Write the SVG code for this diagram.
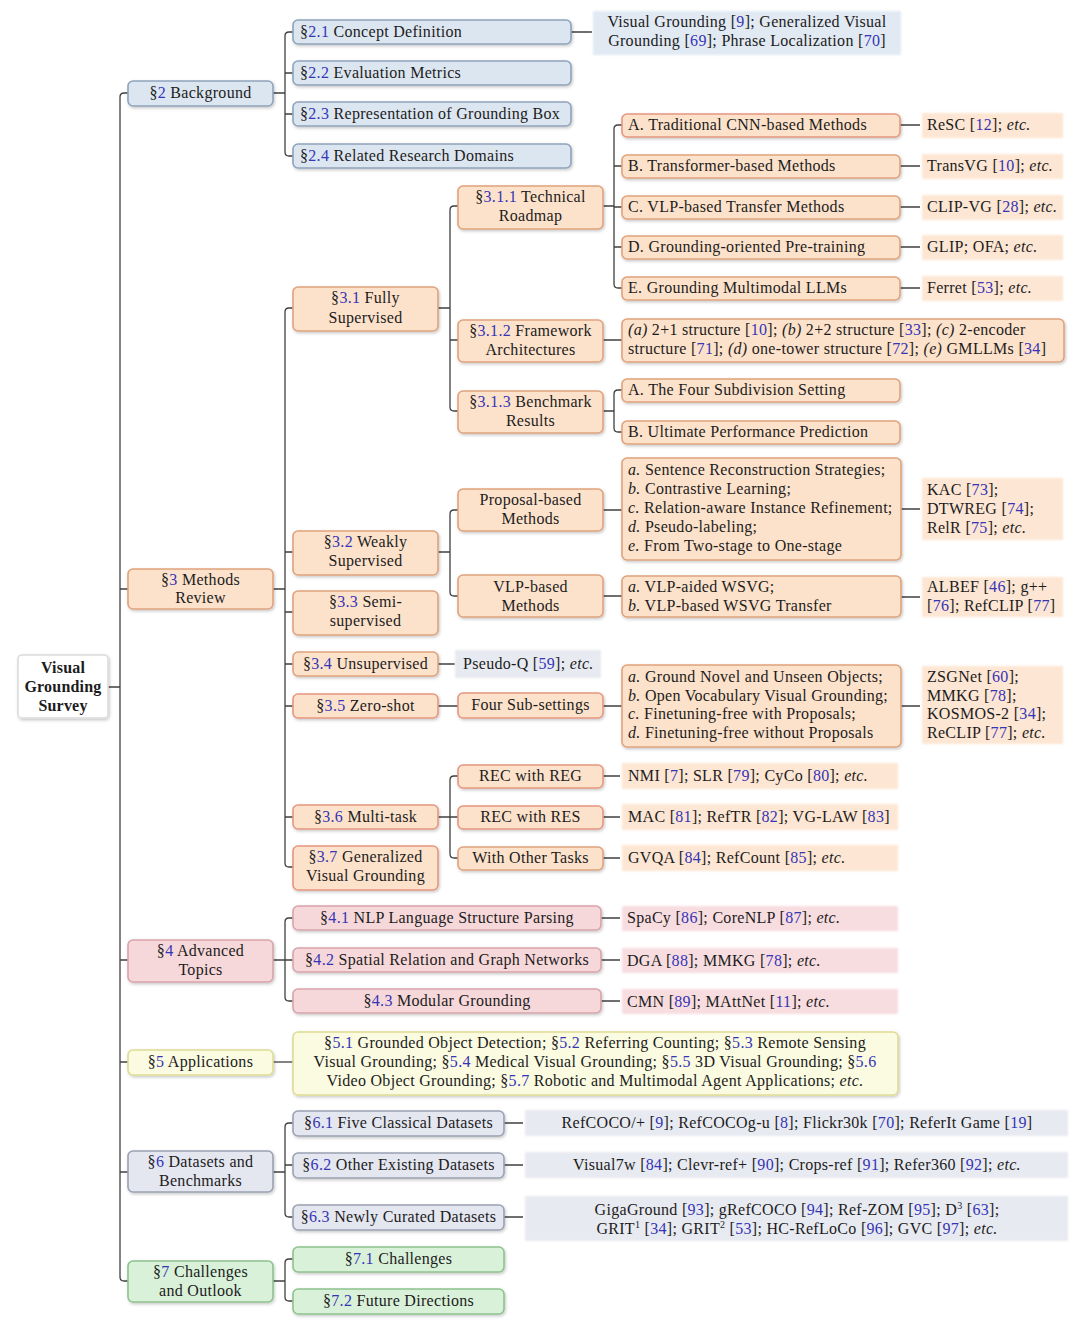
<svg xmlns="http://www.w3.org/2000/svg" width="1080" height="1328" viewBox="0 0 1080 1328">
<defs>
<filter id="sh" x="-10%" y="-30%" width="120%" height="160%">
<feDropShadow dx="1" dy="1.5" stdDeviation="1.4" flood-color="#000" flood-opacity="0.22"/>
</filter>
<filter id="soft" x="-5%" y="-20%" width="110%" height="140%">
<feGaussianBlur stdDeviation="1.2"/>
</filter>
</defs>
<style>
text{font-family:"Liberation Serif","Times New Roman",serif;font-size:16px;letter-spacing:0.3px;fill:#1c1c1c}
.c{text-anchor:middle}
.n{fill:#3535b5}
.i{font-style:italic}
.bold{font-weight:bold;letter-spacing:0.2px}
rect.box{stroke-width:1.6;filter:url(#sh)}
.b0{fill:#ffffff;stroke:#dcdcdc}
.b2{fill:#dce6f1;stroke:#8fa3bb}
.b3{fill:#fce2cb;stroke:#dfa27c}
.b3r{fill:#fce2cb;stroke:#e6977f}
.b4{fill:#f6d7da;stroke:#d7a4aa}
.b5{fill:#fbfbe2;stroke:#dedd92}
.b6{fill:#e4e6f0;stroke:#9ba1b3}
.b7{fill:#d9f1d9;stroke:#8dc28d}
rect.leaf{filter:url(#soft)}
.l2{fill:#e1e9f3}
.l3{fill:#fde6d3}
.l4{fill:#f8dde0}
.l6{fill:#e8eaf1}
#connectors path{fill:none;stroke:#404040;stroke-width:1.3}
</style>
<rect width="1080" height="1328" fill="#ffffff"/>

<g id="connectors">
<path d="M108,687 H120 M128,93 H124 Q120,93 120,97 V1277 Q120,1281 124,1281 H128 M120,589 H128 M120,960 H128 M120,1062 H128 M120,1172 H128"/>
<path d="M273,93 H285 M293,32 H289 Q285,32 285,36 V152 Q285,156 289,156 H293 M285,73 H293 M285,114 H293 M571,32 H592"/>
<path d="M273,589 H285 M293,308 H289 Q285,308 285,312 V863 Q285,867 289,867 H293 M285,552 H293 M285,612 H293 M285,664 H293 M285,706 H293 M285,817 H293"/>
<path d="M438,664 H455 M438,706 H458 M603,706 H622 M900,706 H920"/>
<path d="M438,308 H450 M458,206 H454 Q450,206 450,210 V407 Q450,411 454,411 H458 M450,340 H458"/>
<path d="M603,206 H614 M622,125 H618 Q614,125 614,129 V284 Q614,288 618,288 H622 M614,166 H622 M614,207 H622 M614,247 H622"/>
<path d="M900,125 H920 M900,166 H920 M900,207 H920 M900,247 H920 M900,288 H920"/>
<path d="M603,340 H622 M603,411 H614 M622,390 H618 Q614,390 614,394 V428 Q614,432 618,432 H622"/>
<path d="M438,552 H450 M458,510 H454 Q450,510 450,514 V592 Q450,596 454,596 H458 M603,510 H622 M603,596 H622 M900,509 H920 M900,597 H920"/>
<path d="M438,817 H450 M458,776 H454 Q450,776 450,780 V854 Q450,858 454,858 H458 M450,817 H458 M603,776 H620 M603,817 H620 M603,858 H620"/>
<path d="M273,960 H285 M293,918 H289 Q285,918 285,922 V997 Q285,1001 289,1001 H293 M285,960 H293 M601,918 H620 M601,960 H620 M601,1001 H620"/>
<path d="M273,1062 H293"/>
<path d="M273,1172 H285 M293,1123 H289 Q285,1123 285,1127 V1213 Q285,1217 289,1217 H293 M285,1165 H293 M504,1123 H523 M504,1165 H523 M504,1217 H523"/>
<path d="M273,1281 H285 M293,1259 H289 Q285,1259 285,1263 V1297 Q285,1301 289,1301 H293"/>
</g>

<g id="root"><rect class="box b0" x="18" y="655" width="90" height="63" rx="4"/>
<text class="c bold" x="63" y="673">Visual</text><text class="c bold" x="63" y="692">Grounding</text><text class="c bold" x="63" y="711">Survey</text></g>

<!-- §2 -->
<g id="s2"><rect class="box b2" x="128" y="81" width="145" height="25" rx="5"/><text class="c" x="200.5" y="98">§<tspan class="n">2</tspan> Background</text></g>
<g id="s2_1"><rect class="box b2" x="293" y="20" width="278" height="24" rx="5"/><text x="300" y="37">§<tspan class="n">2.1</tspan> Concept Definition</text></g>
<g id="s2_2"><rect class="box b2" x="293" y="61" width="278" height="24" rx="5"/><text x="300" y="78">§<tspan class="n">2.2</tspan> Evaluation Metrics</text></g>
<g id="s2_3"><rect class="box b2" x="293" y="102" width="278" height="24" rx="5"/><text x="300" y="119">§<tspan class="n">2.3</tspan> Representation of Grounding Box</text></g>
<g id="s2_4"><rect class="box b2" x="293" y="144" width="278" height="24" rx="5"/><text x="300" y="161">§<tspan class="n">2.4</tspan> Related Research Domains</text></g>
<g id="s2_1_leaf"><rect class="leaf l2" x="593" y="11" width="308" height="44"/>
<text class="c" x="747" y="27">Visual Grounding [<tspan class="n">9</tspan>]; Generalized Visual</text>
<text class="c" x="747" y="46">Grounding [<tspan class="n">69</tspan>]; Phrase Localization [<tspan class="n">70</tspan>]</text></g>

<!-- §3 -->
<g id="s3"><rect class="box b3" x="128" y="569" width="145" height="40" rx="5"/><text class="c" x="200.5" y="585">§<tspan class="n">3</tspan> Methods</text><text class="c" x="200.5" y="603">Review</text></g>
<g id="s3_1"><rect class="box b3" x="293" y="287" width="145" height="44" rx="5"/><text class="c" x="365.5" y="303">§<tspan class="n">3.1</tspan> Fully</text><text class="c" x="365.5" y="323">Supervised</text></g>
<g id="s3_2"><rect class="box b3" x="293" y="531" width="145" height="44" rx="5"/><text class="c" x="365.5" y="547">§<tspan class="n">3.2</tspan> Weakly</text><text class="c" x="365.5" y="566">Supervised</text></g>
<g id="s3_3"><rect class="box b3" x="293" y="591" width="145" height="44" rx="5"/><text class="c" x="365.5" y="607">§<tspan class="n">3.3</tspan> Semi-</text><text class="c" x="365.5" y="626">supervised</text></g>
<g id="s3_4"><rect class="box b3" x="293" y="652" width="145" height="24" rx="5"/><text class="c" x="365.5" y="669">§<tspan class="n">3.4</tspan> Unsupervised</text></g>
<g id="s3_5"><rect class="box b3r" x="293" y="694" width="145" height="24" rx="5"/><text class="c" x="365.5" y="711">§<tspan class="n">3.5</tspan> Zero-shot</text></g>
<g id="s3_6"><rect class="box b3r" x="293" y="805" width="145" height="24" rx="5"/><text class="c" x="365.5" y="822">§<tspan class="n">3.6</tspan> Multi-task</text></g>
<g id="s3_7"><rect class="box b3r" x="293" y="846" width="145" height="44" rx="5"/><text class="c" x="365.5" y="862">§<tspan class="n">3.7</tspan> Generalized</text><text class="c" x="365.5" y="881">Visual Grounding</text></g>

<g id="s3_1_1"><rect class="box b3" x="458" y="186" width="145" height="43" rx="5"/><text class="c" x="530.5" y="202">§<tspan class="n">3.1.1</tspan> Technical</text><text class="c" x="530.5" y="221">Roadmap</text></g>
<g id="s3_1_2"><rect class="box b3" x="458" y="320" width="145" height="42" rx="5"/><text class="c" x="530.5" y="336">§<tspan class="n">3.1.2</tspan> Framework</text><text class="c" x="530.5" y="355">Architectures</text></g>
<g id="s3_1_3"><rect class="box b3" x="458" y="391" width="145" height="42" rx="5"/><text class="c" x="530.5" y="407">§<tspan class="n">3.1.3</tspan> Benchmark</text><text class="c" x="530.5" y="426">Results</text></g>

<g id="m_a"><rect class="box b3r" x="622" y="114" width="278" height="23" rx="5"/><text x="628" y="130">A. Traditional CNN-based Methods</text></g>
<g id="m_b"><rect class="box b3" x="622" y="155" width="278" height="23" rx="5"/><text x="628" y="171">B. Transformer-based Methods</text></g>
<g id="m_c"><rect class="box b3" x="622" y="196" width="278" height="23" rx="5"/><text x="628" y="212">C. VLP-based Transfer Methods</text></g>
<g id="m_d"><rect class="box b3" x="622" y="236" width="278" height="23" rx="5"/><text x="628" y="252">D. Grounding-oriented Pre-training</text></g>
<g id="m_e"><rect class="box b3" x="622" y="277" width="278" height="23" rx="5"/><text x="628" y="293">E. Grounding Multimodal LLMs</text></g>
<g id="m_a_leaf"><rect class="leaf l3" x="922" y="113" width="141" height="25"/><text x="927" y="130">ReSC [<tspan class="n">12</tspan>]; <tspan class="i">etc.</tspan></text></g>
<g id="m_b_leaf"><rect class="leaf l3" x="922" y="154" width="141" height="25"/><text x="927" y="171">TransVG [<tspan class="n">10</tspan>]; <tspan class="i">etc.</tspan></text></g>
<g id="m_c_leaf"><rect class="leaf l3" x="922" y="195" width="141" height="25"/><text x="927" y="212">CLIP-VG [<tspan class="n">28</tspan>]; <tspan class="i">etc.</tspan></text></g>
<g id="m_d_leaf"><rect class="leaf l3" x="922" y="235" width="141" height="25"/><text x="927" y="252">GLIP; OFA; <tspan class="i">etc.</tspan></text></g>
<g id="m_e_leaf"><rect class="leaf l3" x="922" y="276" width="141" height="25"/><text x="927" y="293">Ferret [<tspan class="n">53</tspan>]; <tspan class="i">etc.</tspan></text></g>

<g id="arch"><rect class="box b3" x="622" y="319" width="442" height="43" rx="5"/>
<text x="628" y="335"><tspan class="i">(a)</tspan> 2+1 structure [<tspan class="n">10</tspan>]; <tspan class="i">(b)</tspan> 2+2 structure [<tspan class="n">33</tspan>]; <tspan class="i">(c)</tspan> 2-encoder</text>
<text x="628" y="354">structure [<tspan class="n">71</tspan>]; <tspan class="i">(d)</tspan> one-tower structure [<tspan class="n">72</tspan>]; <tspan class="i">(e)</tspan> GMLLMs [<tspan class="n">34</tspan>]</text></g>
<g id="bench_a"><rect class="box b3" x="622" y="379" width="278" height="23" rx="5"/><text x="628" y="395">A. The Four Subdivision Setting</text></g>
<g id="bench_b"><rect class="box b3" x="622" y="421" width="278" height="23" rx="5"/><text x="628" y="437">B. Ultimate Performance Prediction</text></g>

<g id="proposal"><rect class="box b3" x="458" y="489" width="145" height="42" rx="5"/><text class="c" x="530.5" y="505">Proposal-based</text><text class="c" x="530.5" y="524">Methods</text></g>
<g id="vlp"><rect class="box b3" x="458" y="575" width="145" height="42" rx="5"/><text class="c" x="530.5" y="592">VLP-based</text><text class="c" x="530.5" y="611">Methods</text></g>
<g id="proposal_list"><rect class="box b3" x="622" y="458" width="279" height="102" rx="5"/>
<text x="628" y="475"><tspan class="i">a.</tspan> Sentence Reconstruction Strategies;</text>
<text x="628" y="494"><tspan class="i">b.</tspan> Contrastive Learning;</text>
<text x="628" y="513"><tspan class="i">c.</tspan> Relation-aware Instance Refinement;</text>
<text x="628" y="532"><tspan class="i">d.</tspan> Pseudo-labeling;</text>
<text x="628" y="551"><tspan class="i">e.</tspan> From Two-stage to One-stage</text></g>
<g id="proposal_leaf"><rect class="leaf l3" x="922" y="478" width="141" height="62"/>
<text x="927" y="495">KAC [<tspan class="n">73</tspan>];</text><text x="927" y="514">DTWREG [<tspan class="n">74</tspan>];</text><text x="927" y="533">RelR [<tspan class="n">75</tspan>]; <tspan class="i">etc.</tspan></text></g>
<g id="vlp_list"><rect class="box b3" x="622" y="576" width="279" height="41" rx="5"/>
<text x="628" y="592"><tspan class="i">a.</tspan> VLP-aided WSVG;</text><text x="628" y="611"><tspan class="i">b.</tspan> VLP-based WSVG Transfer</text></g>
<g id="vlp_leaf"><rect class="leaf l3" x="922" y="577" width="141" height="40"/>
<text x="927" y="592">ALBEF [<tspan class="n">46</tspan>]; g++</text><text x="927" y="611">[<tspan class="n">76</tspan>]; RefCLIP [<tspan class="n">77</tspan>]</text></g>

<g id="s3_4_leaf"><rect class="leaf l6" x="455" y="650" width="146" height="28"/><text x="463" y="669">Pseudo-Q [<tspan class="n">59</tspan>]; <tspan class="i">etc.</tspan></text></g>
<g id="foursub"><rect class="box b3r" x="458" y="693" width="145" height="25" rx="5"/><text class="c" x="530.5" y="710">Four Sub-settings</text></g>
<g id="zs_list"><rect class="box b3" x="622" y="665" width="279" height="82" rx="5"/>
<text x="628" y="682"><tspan class="i">a.</tspan> Ground Novel and Unseen Objects;</text>
<text x="628" y="701"><tspan class="i">b.</tspan> Open Vocabulary Visual Grounding;</text>
<text x="628" y="719"><tspan class="i">c.</tspan> Finetuning-free with Proposals;</text>
<text x="628" y="738"><tspan class="i">d.</tspan> Finetuning-free without Proposals</text></g>
<g id="zs_leaf"><rect class="leaf l3" x="922" y="666" width="141" height="78"/>
<text x="927" y="682">ZSGNet [<tspan class="n">60</tspan>];</text><text x="927" y="701">MMKG [<tspan class="n">78</tspan>];</text><text x="927" y="719">KOSMOS-2 [<tspan class="n">34</tspan>];</text><text x="927" y="738">ReCLIP [<tspan class="n">77</tspan>]; <tspan class="i">etc.</tspan></text></g>

<g id="recreg"><rect class="box b3r" x="458" y="765" width="145" height="23" rx="5"/><text class="c" x="530.5" y="781">REC with REG</text></g>
<g id="recres"><rect class="box b3r" x="458" y="806" width="145" height="23" rx="5"/><text class="c" x="530.5" y="822">REC with RES</text></g>
<g id="other"><rect class="box b3" x="458" y="847" width="145" height="23" rx="5"/><text class="c" x="530.5" y="863">With Other Tasks</text></g>
<g id="recreg_leaf"><rect class="leaf l3" x="622" y="763" width="276" height="26"/><text x="628" y="781">NMI [<tspan class="n">7</tspan>]; SLR [<tspan class="n">79</tspan>]; CyCo [<tspan class="n">80</tspan>]; <tspan class="i">etc.</tspan></text></g>
<g id="recres_leaf"><rect class="leaf l3" x="622" y="804" width="276" height="26"/><text x="628" y="822">MAC [<tspan class="n">81</tspan>]; RefTR [<tspan class="n">82</tspan>]; VG-LAW [<tspan class="n">83</tspan>]</text></g>
<g id="other_leaf"><rect class="leaf l3" x="622" y="845" width="276" height="26"/><text x="628" y="863">GVQA [<tspan class="n">84</tspan>]; RefCount [<tspan class="n">85</tspan>]; <tspan class="i">etc.</tspan></text></g>

<!-- §4 -->
<g id="s4"><rect class="box b4" x="128" y="940" width="145" height="42" rx="5"/><text class="c" x="200.5" y="956">§<tspan class="n">4</tspan> Advanced</text><text class="c" x="200.5" y="975">Topics</text></g>
<g id="s4_1"><rect class="box b4" x="293" y="906" width="308" height="24" rx="5"/><text class="c" x="447" y="923">§<tspan class="n">4.1</tspan> NLP Language Structure Parsing</text></g>
<g id="s4_2"><rect class="box b4" x="293" y="948" width="308" height="24" rx="5"/><text class="c" x="447" y="965">§<tspan class="n">4.2</tspan> Spatial Relation and Graph Networks</text></g>
<g id="s4_3"><rect class="box b4" x="293" y="989" width="308" height="24" rx="5"/><text class="c" x="447" y="1006">§<tspan class="n">4.3</tspan> Modular Grounding</text></g>
<g id="s4_1_leaf"><rect class="leaf l4" x="622" y="906" width="276" height="25"/><text x="627" y="923">SpaCy [<tspan class="n">86</tspan>]; CoreNLP [<tspan class="n">87</tspan>]; <tspan class="i">etc.</tspan></text></g>
<g id="s4_2_leaf"><rect class="leaf l4" x="622" y="948" width="276" height="25"/><text x="627" y="966">DGA [<tspan class="n">88</tspan>]; MMKG [<tspan class="n">78</tspan>]; <tspan class="i">etc.</tspan></text></g>
<g id="s4_3_leaf"><rect class="leaf l4" x="622" y="989" width="276" height="25"/><text x="627" y="1007">CMN [<tspan class="n">89</tspan>]; MAttNet [<tspan class="n">11</tspan>]; <tspan class="i">etc.</tspan></text></g>

<!-- §5 -->
<g id="s5"><rect class="box b5" x="128" y="1050" width="145" height="25" rx="5"/><text class="c" x="200.5" y="1067">§<tspan class="n">5</tspan> Applications</text></g>
<g id="s5_list"><rect class="box b5" x="293" y="1032" width="605" height="63" rx="5"/>
<text class="c" x="595" y="1048">§<tspan class="n">5.1</tspan> Grounded Object Detection; §<tspan class="n">5.2</tspan> Referring Counting; §<tspan class="n">5.3</tspan> Remote Sensing</text>
<text class="c" x="595" y="1067">Visual Grounding; §<tspan class="n">5.4</tspan> Medical Visual Grounding; §<tspan class="n">5.5</tspan> 3D Visual Grounding; §<tspan class="n">5.6</tspan></text>
<text class="c" x="595" y="1086">Video Object Grounding; §<tspan class="n">5.7</tspan> Robotic and Multimodal Agent Applications; <tspan class="i">etc.</tspan></text></g>

<!-- §6 -->
<g id="s6"><rect class="box b6" x="128" y="1151" width="145" height="41" rx="5"/><text class="c" x="200.5" y="1167">§<tspan class="n">6</tspan> Datasets and</text><text class="c" x="200.5" y="1186">Benchmarks</text></g>
<g id="s6_1"><rect class="box b6" x="293" y="1111" width="211" height="25" rx="5"/><text class="c" x="398.5" y="1128">§<tspan class="n">6.1</tspan> Five Classical Datasets</text></g>
<g id="s6_2"><rect class="box b6" x="293" y="1153" width="211" height="25" rx="5"/><text class="c" x="398.5" y="1170">§<tspan class="n">6.2</tspan> Other Existing Datasets</text></g>
<g id="s6_3"><rect class="box b6" x="293" y="1205" width="211" height="25" rx="5"/><text class="c" x="398.5" y="1222">§<tspan class="n">6.3</tspan> Newly Curated Datasets</text></g>
<g id="s6_1_leaf"><rect class="leaf l6" x="525" y="1110" width="543" height="26"/><text class="c" x="797" y="1128">RefCOCO/+ [<tspan class="n">9</tspan>]; RefCOCOg-u [<tspan class="n">8</tspan>]; Flickr30k [<tspan class="n">70</tspan>]; ReferIt Game [<tspan class="n">19</tspan>]</text></g>
<g id="s6_2_leaf"><rect class="leaf l6" x="525" y="1152" width="543" height="26"/><text class="c" x="797" y="1170">Visual7w [<tspan class="n">84</tspan>]; Clevr-ref+ [<tspan class="n">90</tspan>]; Crops-ref [<tspan class="n">91</tspan>]; Refer360 [<tspan class="n">92</tspan>]; <tspan class="i">etc.</tspan></text></g>
<g id="s6_3_leaf"><rect class="leaf l6" x="525" y="1196" width="543" height="45"/>
<text class="c" x="797" y="1215">GigaGround [<tspan class="n">93</tspan>]; gRefCOCO [<tspan class="n">94</tspan>]; Ref-ZOM [<tspan class="n">95</tspan>]; D<tspan font-size="10" dy="-6">3</tspan><tspan dy="6"> [</tspan><tspan class="n">63</tspan>];</text>
<text class="c" x="797" y="1234">GRIT<tspan font-size="10" dy="-6">1</tspan><tspan dy="6"> [</tspan><tspan class="n">34</tspan>]; GRIT<tspan font-size="10" dy="-6">2</tspan><tspan dy="6"> [</tspan><tspan class="n">53</tspan>]; HC-RefLoCo [<tspan class="n">96</tspan>]; GVC [<tspan class="n">97</tspan>]; <tspan class="i">etc.</tspan></text></g>

<!-- §7 -->
<g id="s7"><rect class="box b7" x="128" y="1261" width="145" height="41" rx="5"/><text class="c" x="200.5" y="1277">§<tspan class="n">7</tspan> Challenges</text><text class="c" x="200.5" y="1296">and Outlook</text></g>
<g id="s7_1"><rect class="box b7" x="293" y="1247" width="211" height="25" rx="5"/><text class="c" x="398.5" y="1264">§<tspan class="n">7.1</tspan> Challenges</text></g>
<g id="s7_2"><rect class="box b7" x="293" y="1289" width="211" height="25" rx="5"/><text class="c" x="398.5" y="1306">§<tspan class="n">7.2</tspan> Future Directions</text></g>
</svg>
